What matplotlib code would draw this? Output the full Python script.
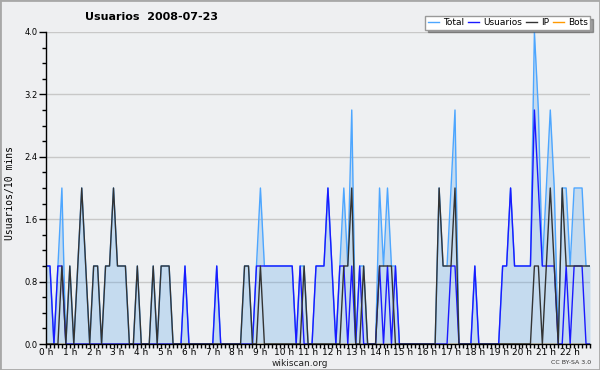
import numpy as np
import matplotlib
matplotlib.use('Agg')
import matplotlib.pyplot as plt
from matplotlib.ticker import MultipleLocator, FormatStrFormatter
from matplotlib.patches import Rectangle
from matplotlib.lines import Line2D

# one value every 10 minutes, one row per hour (0 h .. 22 h)
total = [
    1, 1, 0, 1, 2, 0,
    1, 0, 1, 2, 1, 0,
    1, 1, 0, 1, 1, 2,
    1, 1, 1, 0, 0, 1,
    0, 0, 0, 1, 0, 1,
    1, 1, 0, 0, 0, 1,
    0, 0, 0, 0, 0, 0,
    0, 1, 0, 0, 0, 0,
    0, 0, 1, 1, 0, 1,
    2, 1, 1, 1, 1, 1,
    1, 1, 1, 0, 1, 1,
    0, 0, 1, 1, 1, 2,
    1, 0, 1, 2, 1, 3,
    0, 1, 1, 0, 0, 0,
    2, 1, 2, 1, 1, 0,
    0, 0, 0, 0, 0, 0,
    0, 0, 0, 2, 1, 1,
    2, 3, 0, 0, 0, 0,
    1, 0, 0, 0, 0, 0,
    0, 1, 1, 2, 1, 1,
    1, 1, 1, 4, 3, 1,
    2, 3, 2, 0, 2, 2,
    1, 2, 2, 2, 1, 1,
]
usuarios = [
    1, 1, 0, 1, 1, 0,
    0, 0, 0, 0, 0, 0,
    0, 0, 0, 0, 0, 0,
    0, 0, 0, 0, 0, 0,
    0, 0, 0, 0, 0, 0,
    0, 0, 0, 0, 0, 1,
    0, 0, 0, 0, 0, 0,
    0, 1, 0, 0, 0, 0,
    0, 0, 0, 0, 0, 1,
    1, 1, 1, 1, 1, 1,
    1, 1, 1, 0, 1, 0,
    0, 0, 1, 1, 1, 2,
    1, 0, 1, 1, 0, 1,
    0, 1, 0, 0, 0, 0,
    1, 0, 1, 0, 1, 0,
    0, 0, 0, 0, 0, 0,
    0, 0, 0, 0, 0, 0,
    1, 1, 0, 0, 0, 0,
    1, 0, 0, 0, 0, 0,
    0, 1, 1, 2, 1, 1,
    1, 1, 1, 3, 2, 1,
    1, 1, 1, 0, 0, 1,
    0, 1, 1, 1, 0, 0,
]
ip = [
    0, 0, 0, 0, 1, 0,
    1, 0, 1, 2, 1, 0,
    1, 1, 0, 1, 1, 2,
    1, 1, 1, 0, 0, 1,
    0, 0, 0, 1, 0, 1,
    1, 1, 0, 0, 0, 0,
    0, 0, 0, 0, 0, 0,
    0, 0, 0, 0, 0, 0,
    0, 0, 1, 1, 0, 0,
    1, 0, 0, 0, 0, 0,
    0, 0, 0, 0, 0, 1,
    0, 0, 0, 0, 0, 0,
    0, 0, 0, 1, 1, 2,
    0, 0, 1, 0, 0, 0,
    1, 1, 1, 1, 0, 0,
    0, 0, 0, 0, 0, 0,
    0, 0, 0, 2, 1, 1,
    1, 2, 0, 0, 0, 0,
    0, 0, 0, 0, 0, 0,
    0, 0, 0, 0, 0, 0,
    0, 0, 0, 1, 1, 0,
    1, 2, 1, 0, 2, 1,
    1, 1, 1, 1, 1, 1,
]
bots = [
    0, 0, 0, 0, 0, 0, 0, 0, 0, 0, 0, 0, 0, 0, 0, 0, 0, 0, 0, 0, 0, 0, 0,
    0, 0, 0, 0, 0, 0, 0, 0, 0, 0, 0, 0, 0, 0, 0, 0, 0, 0, 0, 0, 0, 0, 0,
    0, 0, 0, 0, 0, 0, 0, 0, 0, 0, 0, 0, 0, 0, 0, 0, 0, 0, 0, 0, 0, 0, 0,
    0, 0, 0, 0, 0, 0, 0, 0, 0, 0, 0, 0, 0, 0, 0, 0, 0, 0, 0, 0, 0, 0, 0,
    0, 0, 0, 0, 0, 0, 0, 0, 0, 0, 0, 0, 0, 0, 0, 0, 0, 0, 0, 0, 0, 0, 0,
    0, 0, 0, 0, 0, 0, 0, 0, 0, 0, 0, 0, 0, 0, 0, 0, 0, 0, 0, 0, 0, 0, 0,
]
hours = [0, 1, 2, 3, 4, 5, 6, 7, 8, 9, 10, 11, 12, 13, 14, 15, 16, 17, 18, 19, 20, 21, 22]
hour_labels = ['0 h', '1 h', '2 h', '3 h', '4 h', '5 h', '6 h', '7 h', '8 h', '9 h', '10 h', '11 h',
               '12 h', '13 h', '14 h', '15 h', '16 h', '17 h', '18 h', '19 h', '20 h', '21 h', '22 h']

c_total = '#4da6ff'
c_usu = '#1a1aff'
c_ip = '#333333'
c_bots = '#ff9900'

x = np.arange(len(total)) / 6.0

fig = plt.figure(figsize=(6, 3.7), dpi=100, facecolor='#eeeff1')
ax = fig.add_axes([46/600, 26/370, 544/600, 312/370], facecolor='#eef0f2')

ax.fill_between(x, total, 0, color='#4ea0ea', alpha=0.25, lw=0, zorder=1)
ax.plot(x, bots, color=c_bots, lw=1, zorder=1.5)
ax.plot(x, total, color=c_total, lw=1, zorder=2)
ax.plot(x, usuarios, color=c_usu, lw=1, zorder=3)
ax.plot(x, ip, color=c_ip, lw=1, zorder=4)

ax.set_xlim(0, x[-1])
ax.set_ylim(0, 4.0)
ax.yaxis.set_major_locator(MultipleLocator(0.8))
ax.yaxis.set_minor_locator(MultipleLocator(0.2))
ax.yaxis.set_major_formatter(FormatStrFormatter('%.1f'))
ax.set_xticks(hours)
ax.set_xticklabels(hour_labels)
ax.xaxis.set_minor_locator(MultipleLocator(1/6))
ax.grid(axis='y', which='major', color='#c8c8c8', lw=1)
ax.set_axisbelow(True)

for s in ['top', 'right']:
    ax.spines[s].set_visible(False)
for s in ['left', 'bottom']:
    ax.spines[s].set_color('black')
    ax.spines[s].set_linewidth(1)
    ax.spines[s].set_zorder(6)

ax.tick_params(which='major', direction='out', length=5, width=1, labelsize=6, pad=1, colors='black')
ax.tick_params(which='minor', direction='out', length=3, width=1, colors='black')
ax.tick_params(axis='x', which='both', length=3, labelsize=6.5, pad=0)

fig.text(85/600, 1 - 17/370, 'Usuarios  2008-07-23', fontsize=8, fontweight='bold', va='center', ha='left')
fig.text(10/600, 1 - 193/370, 'Usuarios/10 mins', family='DejaVu Sans Mono', fontsize=7,
         rotation=90, va='center', ha='center')
fig.text(300/600, 1 - 363/370, 'wikiscan.org', fontsize=6.5, ha='center', va='center', color='#222222')
fig.text(571/600, 1 - 363/370, 'CC BY-SA 3.0', fontsize=4.5, ha='center', va='center', color='#333333')

handles = [Line2D([], [], color=c_total, lw=1), Line2D([], [], color=c_usu, lw=1),
           Line2D([], [], color=c_ip, lw=1), Line2D([], [], color=c_bots, lw=1)]
leg = fig.legend(handles, ['Total', 'Usuarios', 'IP', 'Bots'], loc='upper right',
                 bbox_to_anchor=(590/600, 1 - 16/370), ncol=4, fontsize=6.5, frameon=True,
                 fancybox=False, shadow=True, handlelength=1.3, handletextpad=0.4,
                 columnspacing=0.4, borderpad=0.25, borderaxespad=0)
leg.get_frame().set_edgecolor('#999999')
leg.get_frame().set_linewidth(1)
leg.get_frame().set_facecolor('white')
leg.get_frame().set_alpha(1)

fig.patches.append(Rectangle((0, 0), 1, 1, transform=fig.transFigure, fill=False,
                             edgecolor='#a8a8a8', lw=2))

fig.savefig('out.png', dpi=100, facecolor=fig.get_facecolor())
